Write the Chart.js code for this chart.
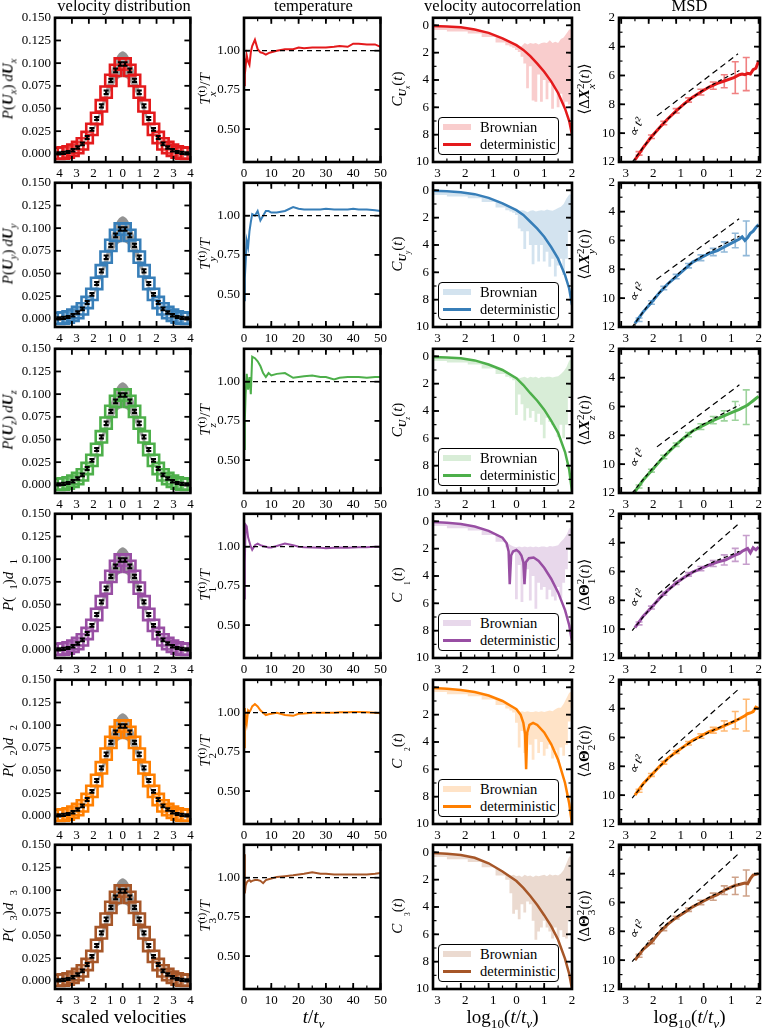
<!DOCTYPE html>
<html lang="en">
<head>
<meta charset="utf-8">
<title>Velocity statistics</title>
<script src="https://cdn.jsdelivr.net/npm/chart.js"></script>
<style>
  html, body { margin: 0; padding: 0; background: #fff; }
  body { position: relative; width: 763px; height: 1029px; overflow: hidden;
         font-family: 'Liberation Serif', 'DejaVu Serif', serif; color: #000; }
  .panel { position: absolute; }
  .txt { position: absolute; white-space: nowrap; line-height: 1; transform: translateX(-50%); }
  .ytitle { position: absolute; white-space: nowrap; font-size: 15px; line-height: 1;
            transform: translate(-50%, -50%) rotate(-90deg); }
  sub, sup { font-size: 0.7em; line-height: 0; }
  .ss { display: inline-flex; flex-direction: column; vertical-align: middle;
        font-size: 0.75em; line-height: 1.0; }
  .legend { position: absolute; border: 1px solid #000; border-radius: 4px; background: #fff;
            font-size: 14.5px; line-height: 1; box-sizing: border-box; }
  .legend .smp { position: absolute; left: 4px; width: 28px; }
  .legend .t { position: absolute; left: 41px; white-space: nowrap; }
</style>
</head>
<body>
<script>
// ---- data ----
const rowColors = ['#e41a1c', '#377eb8', '#4daf4a', '#984ea3', '#ff7f00', '#a65628'];

// velocity distribution (same in every row)
const velX = [-3.78, -3.5, -3.22, -2.94, -2.66, -2.38, -2.1, -1.82, -1.54, -1.26, -0.98, -0.7, -0.42, -0.14,
              0.14, 0.42, 0.7, 0.98, 1.26, 1.54, 1.82, 2.1, 2.38, 2.66, 2.94, 3.22, 3.5, 3.78];
const velP = [0.0005, 0.001, 0.002, 0.004, 0.007, 0.011, 0.018, 0.027, 0.039, 0.053, 0.068, 0.081, 0.092, 0.099,
              0.099, 0.092, 0.081, 0.068, 0.053, 0.039, 0.027, 0.018, 0.011, 0.007, 0.004, 0.002, 0.001, 0.0005];
const velErr = [0.0012, 0.0012, 0.0012, 0.0013, 0.0013, 0.0015, 0.0016, 0.0016, 0.0017, 0.0018, 0.0019, 0.0019, 0.002, 0.002,
                0.002, 0.002, 0.0019, 0.0019, 0.0018, 0.0017, 0.0016, 0.0016, 0.0015, 0.0013, 0.0013, 0.0012, 0.0012, 0.0012];
const grayX  = [-4, -3, -2, -1.5, -1, -0.75, -0.5, -0.25, 0, 0.25, 0.5, 0.75, 1, 1.5, 2, 3, 4];
const grayUp = [0.0005, 0.004, 0.02, 0.04, 0.07, 0.087, 0.101, 0.11, 0.113, 0.11, 0.101, 0.087, 0.07, 0.04, 0.02, 0.004, 0.0005];
const grayLo = [0.0005, 0.003, 0.017, 0.034, 0.057, 0.068, 0.077, 0.083, 0.085, 0.083, 0.077, 0.068, 0.057, 0.034, 0.017, 0.003, 0.0005];

// temperature
const tempT = [0, 0.3, 0.6, 1, 1.5, 2, 2.5, 3, 4, 5, 6, 7, 8, 9, 10, 12, 15, 18, 20, 22, 25, 28, 30, 33, 35, 38, 40, 42, 45, 48, 50];
const temp1 = [0.78, 0.95, 0.90, 0.97, 0.93, 0.91, 0.99, 1.03, 1.07, 1.01, 0.99, 0.985, 0.975, 0.985, 0.99, 1.0, 1.01, 1.01, 1.02, 1.015, 1.02, 1.02, 1.02, 1.025, 1.03, 1.025, 1.045, 1.045, 1.04, 1.04, 1.025];
const temp2 = [0.46, 0.60, 0.70, 0.84, 0.80, 0.90, 0.96, 1.01, 1.0, 1.03, 0.97, 1.0, 1.03, 1.03, 1.02, 1.02, 1.03, 1.055, 1.045, 1.04, 1.04, 1.04, 1.045, 1.04, 1.04, 1.04, 1.045, 1.04, 1.04, 1.035, 1.03];
const temp3 = [0.57, 0.75, 0.92, 1.05, 0.95, 1.03, 0.92, 1.16, 1.15, 1.13, 1.10, 1.055, 1.03, 1.055, 1.04, 1.05, 1.055, 1.025, 1.03, 1.035, 1.04, 1.03, 1.03, 1.015, 1.025, 1.03, 1.03, 1.03, 1.025, 1.03, 1.03];
const temp4 = [0.67, 0.90, 1.14, 1.13, 1.06, 1.03, 1.0, 0.98, 1.01, 1.02, 1.01, 1.005, 1.0, 0.995, 0.995, 1.005, 1.02, 1.01, 1.0, 0.997, 0.995, 0.993, 0.99, 0.993, 0.995, 0.993, 0.995, 0.996, 0.997, 1.0, 1.0];
const temp5 = [0.78, 1.03, 0.97, 0.93, 1.015, 1.005, 1.02, 1.04, 1.055, 1.04, 1.015, 1.0, 0.985, 0.99, 0.993, 1.0, 0.985, 0.98, 0.993, 0.995, 1.0, 1.0, 1.0, 1.0, 1.003, 1.003, 1.005, 1.004, 1.003, 1.0, 0.997];
const temp6 = [1.15, 0.90, 0.95, 0.97, 0.98, 0.985, 0.975, 0.98, 0.985, 0.985, 0.98, 0.965, 0.985, 0.99, 0.995, 1.005, 1.01, 1.015, 1.02, 1.025, 1.035, 1.025, 1.025, 1.02, 1.02, 1.02, 1.02, 1.02, 1.02, 1.025, 1.03];
const tempRows = [temp1, temp2, temp3, temp4, temp5, temp6];

// velocity autocorrelation (log10 values)
const detX  = [-3, -2.5, -2, -1.5, -1, -0.5, 0, 0.25, 0.5, 0.75, 1, 1.25, 1.5, 1.75, 1.9, 2];
const det1  = [-0.05, -0.08, -0.15, -0.3, -0.55, -0.95, -1.45, -1.8, -2.25, -2.8, -3.4, -4.1, -4.95, -6.1, -7.0, -8.0];
const det2  = [-0.04, -0.07, -0.14, -0.28, -0.55, -0.95, -1.45, -1.8, -2.3, -2.8, -3.4, -4.15, -5.0, -6.2, -7.2, -8.4];
const det3  = [-0.05, -0.08, -0.15, -0.3, -0.6, -1.0, -1.6, -2.1, -2.7, -3.25, -3.9, -4.7, -5.6, -7.0, -8.3, -9.9];
const detX4 = [-3, -2.5, -2, -1.5, -1, -0.5, -0.35, -0.28, -0.24, -0.19, -0.12, 0, 0.1, 0.18, 0.25, 0.29, 0.34, 0.45, 0.62, 0.8, 1, 1.25, 1.5, 1.75, 1.9, 2];
const det4  = [-0.05, -0.1, -0.2, -0.38, -0.7, -1.2, -1.6, -2.2, -4.6, -2.5, -2.2, -2.1, -2.25, -2.5, -3.0, -4.6, -3.0, -2.7, -2.65, -2.9, -3.4, -4.2, -5.2, -6.5, -7.6, -8.8];
const detX5 = [-3, -2.5, -2, -1.5, -1, -0.5, 0, 0.15, 0.25, 0.31, 0.35, 0.39, 0.47, 0.6, 0.75, 1, 1.25, 1.5, 1.75, 1.9, 2];
const det5  = [-0.05, -0.1, -0.2, -0.35, -0.6, -1.0, -1.6, -2.0, -2.6, -3.4, -6.0, -3.3, -2.75, -2.6, -2.75, -3.3, -4.15, -5.3, -7.0, -8.5, -10];
const det6  = [-0.05, -0.1, -0.2, -0.4, -0.8, -1.4, -2.1, -2.6, -3.2, -3.85, -4.6, -5.4, -6.4, -7.8, -8.9, -10];
const detXRows = [detX, detX, detX, detX4, detX5, detX];
const detRows  = [det1, det2, det3, det4, det5, det6];

const brX  = [-3, -2, -1.5, -1, -0.5, -0.3, -0.2, -0.1, 0, 0.1, 0.2, 0.3, 0.4, 0.5, 0.6, 0.7, 0.8, 0.9, 1.0, 1.1, 1.2, 1.3, 1.4, 1.5, 1.6, 1.7, 1.8, 1.9, 2.0];
const brU1 = [-0.1, -0.2, -0.35, -0.6, -1.0, -1.18, -1.28, -1.38, -1.5, -1.65, -1.5, -1.3, -1.4, -1.3, -1.35, -1.3, -1.4, -1.3, -1.25, -1.3, -1.1, -1.3, -1.2, -1.3, -1.0, -0.9, -0.6, -0.3, -0.3];
const brL1 = [-0.35, -0.45, -0.6, -0.85, -1.25, -1.45, -1.55, -1.65, -1.8, -1.95, -2.3, -2.8, -4.6, -3.0, -5.5, -5.6, -3.6, -5.6, -4.0, -5.4, -4.2, -6.1, -4.6, -6.0, -5.0, -5.8, -5.6, -5.8, -2.0];
const brU2 = [-0.1, -0.2, -0.33, -0.6, -1.0, -1.18, -1.28, -1.38, -1.5, -1.5, -1.45, -1.5, -1.6, -1.5, -1.45, -1.55, -1.5, -1.45, -1.5, -1.4, -1.45, -1.5, -1.4, -1.3, -1.2, -1.0, -0.6, -0.3, -0.3];
const brL2 = [-0.35, -0.45, -0.58, -0.85, -1.25, -1.45, -1.55, -1.65, -1.8, -2.8, -3.0, -4.3, -3.0, -4.0, -5.4, -4.0, -5.2, -4.0, -5.2, -4.5, -5.6, -5.0, -6.3, -5.5, -5.0, -6.2, -5.0, -3.0, -2.0];
const brU3 = [-0.1, -0.2, -0.35, -0.65, -1.05, -1.25, -1.35, -1.5, -1.5, -1.6, -1.55, -1.5, -1.6, -1.5, -1.55, -1.5, -1.6, -1.5, -1.55, -1.5, -1.5, -1.55, -1.5, -1.45, -1.3, -1.1, -0.8, -0.3, -0.2];
const brL3 = [-0.35, -0.45, -0.6, -0.9, -1.3, -1.5, -1.6, -1.75, -4.3, -2.8, -3.5, -4.7, -3.8, -4.5, -4.0, -4.8, -4.2, -5.0, -6.0, -4.5, -4.8, -5.0, -5.2, -5.9, -5.0, -6.0, -5.0, -3.0, -2.0];
const brU4 = [-0.1, -0.25, -0.42, -0.75, -1.25, -1.6, -1.75, -1.85, -1.9, -1.85, -1.9, -1.85, -1.9, -1.85, -1.9, -1.85, -1.9, -1.85, -1.85, -1.9, -1.8, -1.85, -1.8, -1.75, -1.5, -1.3, -1.0, -0.5, -0.5];
const brL4 = [-0.35, -0.5, -0.68, -1.0, -1.5, -1.9, -2.5, -2.3, -5.7, -3.2, -5.9, -4.6, -3.5, -5.8, -4.0, -6.4, -4.5, -5.0, -4.8, -5.7, -5.0, -5.5, -5.8, -4.8, -5.6, -4.5, -3.5, -2.0, -1.0];
const brU5 = [-0.1, -0.25, -0.4, -0.65, -1.05, -1.3, -1.45, -1.6, -1.7, -1.8, -1.75, -1.8, -1.75, -1.8, -1.8, -1.75, -1.8, -1.75, -1.8, -1.75, -1.7, -1.75, -1.6, -1.5, -1.5, -1.2, -0.8, -0.4, -0.3];
const brL5 = [-0.35, -0.5, -0.65, -0.9, -1.3, -1.55, -1.7, -1.85, -2.6, -4.4, -3.2, -4.8, -3.5, -4.2, -5.3, -3.8, -4.8, -4.0, -5.0, -4.5, -4.2, -5.2, -4.6, -5.5, -4.4, -5.0, -4.2, -2.5, -1.5];
const brU6 = [-0.1, -0.25, -0.45, -0.85, -1.45, -1.6, -1.7, -1.65, -1.75, -1.7, -1.8, -1.65, -1.75, -1.7, -1.8, -1.7, -1.75, -1.7, -1.65, -1.75, -1.6, -1.7, -1.65, -1.7, -1.55, -1.3, -0.8, -0.3, -0.3];
const brL6 = [-0.35, -0.5, -0.7, -1.1, -1.7, -2.0, -3.0, -4.5, -4.2, -4.9, -3.8, -4.4, -3.6, -3.8, -5.0, -6.4, -5.8, -5.5, -5.0, -5.5, -5.8, -6.3, -5.5, -6.3, -5.7, -6.2, -6.3, -5.0, -1.0];
const brURows = [brU1, brU2, brU3, brU4, brU5, brU6];
const brLRows = [brL1, brL2, brL3, brL4, brL5, brL6];

// MSD (log10 values)
const msdX = [-2.5, -2.2, -1.9, -1.6, -1.3, -1.0, -0.7, -0.4, -0.1, 0.2, 0.5, 0.8, 1.1, 1.3, 1.4, 1.5, 1.6, 1.7, 1.8, 1.9, 2.0];
const msd1 = [-11.85, -11.0, -10.25, -9.6, -9.0, -8.45, -7.95, -7.5, -7.15, -6.8, -6.55, -6.35, -6.15, -5.95, -5.9, -5.95, -5.85, -5.9, -5.6, -5.5, -5.0];
const msd2 = [-11.75, -10.95, -10.3, -9.6, -9.0, -8.5, -8.0, -7.5, -7.2, -6.9, -6.7, -6.4, -6.1, -5.9, -5.75, -6.0, -5.8, -5.5, -5.35, -5.1, -4.9];
const msd3 = [-11.9, -11.1, -10.45, -9.8, -9.2, -8.65, -8.15, -7.7, -7.4, -7.1, -6.85, -6.6, -6.35, -6.2, -6.1, -6.0, -5.9, -5.75, -5.6, -5.45, -5.3];
const msd4 = [-9.9, -9.1, -8.5, -7.85, -7.3, -6.8, -6.4, -6.05, -5.8, -5.55, -5.35, -5.2, -4.9, -4.75, -4.6, -4.5, -4.4, -4.7, -4.35, -4.5, -4.3];
const msd5 = [-10.0, -9.2, -8.6, -8.0, -7.45, -7.0, -6.6, -6.2, -5.9, -5.6, -5.4, -5.15, -4.9, -4.7, -4.6, -4.5, -4.35, -4.3, -4.2, -3.9, -4.0];
const msd6 = [-10.0, -9.25, -8.75, -8.05, -7.5, -7.05, -6.7, -6.3, -6.0, -5.7, -5.45, -5.1, -4.85, -4.75, -4.7, -4.65, -4.7, -4.35, -4.1, -4.05, -4.0];
const msdRows = [msd1, msd2, msd3, msd4, msd5, msd6];

const errX = [-2.35, -1.9, -1.45, -1.0, -0.55, -0.1, 0.35, 0.75, 1.15, 1.55];
const errYRows = [
  [-11.4, -10.25, -9.3, -8.45, -7.7, -7.15, -6.7, -6.4, -6.15, -5.9],
  [-11.5, -10.3, -9.3, -8.5, -7.75, -7.2, -6.8, -6.45, -6.0, -5.85],
  [-11.55, -10.45, -9.5, -8.65, -7.95, -7.4, -6.95, -6.65, -6.3, -6.05],
  [-9.6, -8.5, -7.55, -6.8, -6.2, -5.8, -5.45, -5.2, -4.85, -4.5],
  [-9.7, -8.6, -7.75, -7.0, -6.4, -5.9, -5.5, -5.2, -4.8, -4.45],
  [-9.7, -8.75, -7.85, -7.05, -6.5, -6.0, -5.6, -5.15, -4.85, -4.65]
];
const errERows = [
  [0.12, 0.12, 0.12, 0.15, 0.15, 0.2, 0.25, 0.45, 1.1, 1.15],
  [0.12, 0.12, 0.12, 0.15, 0.15, 0.2, 0.25, 0.35, 0.5, 1.2],
  [0.1, 0.1, 0.12, 0.12, 0.15, 0.2, 0.25, 0.35, 0.65, 1.2],
  [0.1, 0.1, 0.1, 0.1, 0.12, 0.15, 0.2, 0.35, 0.45, 1.0],
  [0.1, 0.1, 0.1, 0.1, 0.12, 0.15, 0.2, 0.35, 0.6, 1.1],
  [0.1, 0.1, 0.1, 0.1, 0.12, 0.15, 0.25, 0.3, 0.6, 0.9]
];
const thX = [-2.6, -2.0, -1.4, -0.8, -0.2, 0.4, 1.0, 1.3];
const thRows = [
  [-12.0, -10.5, -9.2, -8.15, -7.25, -6.55, -5.95, -5.65],
  [-12.0, -10.45, -9.2, -8.1, -7.25, -6.6, -6.0, -5.7],
  [-12.0, -10.6, -9.35, -8.3, -7.45, -6.8, -6.2, -5.9],
  [-10.1, -8.7, -7.5, -6.55, -5.85, -5.3, -4.85, -4.6],
  [-10.2, -8.8, -7.65, -6.75, -6.05, -5.45, -4.95, -4.7],
  [-10.1, -8.75, -7.6, -6.75, -6.05, -5.45, -4.95, -4.7]
];
const steepXRows = [[-1.7, 1.25], [-1.72, 1.29], [-1.7, 1.3], [-1.67, 1.3], [-1.65, 1.3], [-1.61, 1.28]];
const steepYRows = [[-8.8, -4.5], [-8.7, -4.5], [-8.8, -4.5], [-7.6, -2.65], [-7.6, -2.6], [-7.65, -2.6]];
const noteY = [-9.6, -9.6, -9.6, -7.9, -7.9, -7.9];

// tick labels
const velTicksX = [-4, -3, -2, -1, 0, 1, 2, 3, 4];
const velTicksY = [0, 0.025, 0.05, 0.075, 0.1, 0.125, 0.15];
const tempTicksX = [0, 10, 20, 30, 40, 50];
const tempTicksY = [0.5, 0.75, 1.0];
const acfTicksX = [-3, -2, -1, 0, 1, 2];
const acfTicksY = [0, -2, -4, -6, -8, -10];
const msdTicksX = [-3, -2, -1, 0, 1, 2];
const msdTicksY = [-2, -4, -6, -8, -10, -12];

// ---- layout ----
Chart.defaults.font.family = "'Liberation Serif', serif";
Chart.defaults.font.size = 13;
Chart.defaults.color = '#000';

const colL = [55, 244, 433, 619], colW = [138, 139, 139, 141];
const rowH = 146;
const rowTop = r => Math.round(16 + 165.4 * r);
const PAD_L = 46, PAD_T = 10, PAD_R = 8, PAD_B = 22;

function pts(xs, ys) { return xs.map((x, i) => ({ x: x, y: ys[i] })); }
function fade(hex, a) {
  const n = parseInt(hex.slice(1), 16);
  return 'rgba(' + (n >> 16) + ',' + ((n >> 8) & 255) + ',' + (n & 255) + ',' + a + ')';
}
const absLabel = v => String(Math.abs(v));
const shiftLabel = v => (v < 0 ? '\u2002\u2009' : '') + Math.abs(v);

function axis(min, max, ticks, fmt, horizontal) {
  return {
    type: 'linear', min: min, max: max,
    grid: { display: false, drawTicks: false }, border: { display: false },
    afterBuildTicks: s => { s.ticks = ticks.map(v => ({ value: v })); },
    afterFit: s => { if (horizontal) s.height = PAD_B; else s.width = PAD_L; },
    ticks: { autoSkip: false, maxRotation: 0, minRotation: 0, padding: 4, callback: fmt }
  };
}

function makeDecor(info) {
  function errs(chart, below) {
    const { ctx, scales: { x, y } } = chart;
    (info.errs || []).filter(e => !!e.below === below).forEach(e => {
      ctx.save();
      ctx.strokeStyle = e.color; ctx.lineWidth = e.lw;
      e.x.forEach((xv, i) => {
        const px = x.getPixelForValue(xv);
        const lo = y.getPixelForValue(e.y[i] - e.e[i]), hi = y.getPixelForValue(e.y[i] + e.e[i]);
        ctx.beginPath();
        ctx.moveTo(px, lo); ctx.lineTo(px, hi);
        ctx.moveTo(px - e.cap, lo); ctx.lineTo(px + e.cap, lo);
        ctx.moveTo(px - e.cap, hi); ctx.lineTo(px + e.cap, hi);
        ctx.stroke();
      });
      ctx.restore();
    });
  }
  return {
    id: 'decor',
    beforeDatasetsDraw(chart) { errs(chart, true); },
    afterDatasetsDraw(chart) { errs(chart, false); },
    afterDraw(chart) {
      const { ctx, chartArea: a, scales: { x, y } } = chart;
      ctx.save();
      ctx.strokeStyle = '#000';
      const seg = (x1, y1, x2, y2) => { ctx.beginPath(); ctx.moveTo(x1, y1); ctx.lineTo(x2, y2); ctx.stroke(); };
      const marks = (len, lw, xs, ys) => {
        ctx.lineWidth = lw;
        xs.forEach(v => { const p = x.getPixelForValue(v); seg(p, a.bottom, p, a.bottom - len); seg(p, a.top, p, a.top + len); });
        ys.forEach(v => { const p = y.getPixelForValue(v); seg(a.left, p, a.left + len, p); seg(a.right, p, a.right - len, p); });
      };
      const steps = (s, step) => {
        const out = [];
        if (!step) return out;
        for (let v = Math.ceil(s.min / step) * step; v <= s.max + 1e-9; v += step) out.push(v);
        return out;
      };
      marks(3.5, 1.2, steps(x, info.xMinor), steps(y, info.yMinor));
      marks(6, 1.8, x.ticks.map(t => t.value), y.ticks.map(t => t.value));
      ctx.lineWidth = 2.6;
      ctx.strokeRect(a.left, a.top, a.width, a.height);
      if (info.note) {
        ctx.translate(x.getPixelForValue(info.note.x), y.getPixelForValue(info.note.y));
        ctx.rotate(-65 * Math.PI / 180);
        ctx.font = "italic 13px 'Liberation Serif', serif";
        ctx.fillStyle = '#000';
        ctx.textAlign = 'center'; ctx.textBaseline = 'middle';
        ctx.fillText(info.note.text, 0, 0);
      }
      ctx.restore();
    }
  };
}

function addPanel(r, c, datasets, xAx, yAx, info) {
  const w = colW[c] + PAD_L + PAD_R, h = rowH + PAD_T + PAD_B;
  const div = document.createElement('div');
  div.className = 'panel';
  div.style.left = (colL[c] - PAD_L) + 'px';
  div.style.top = (rowTop(r) - PAD_T) + 'px';
  const cv = document.createElement('canvas');
  cv.width = w; cv.height = h;
  cv.style.width = w + 'px'; cv.style.height = h + 'px';
  div.appendChild(cv);
  document.body.appendChild(div);
  new Chart(cv, {
    type: 'line',
    data: { datasets: datasets },
    options: {
      responsive: false, animation: false, events: [],
      layout: { padding: { top: PAD_T, right: PAD_R, left: 0, bottom: 0 } },
      plugins: { legend: { display: false }, tooltip: { enabled: false } },
      elements: { point: { radius: 0 }, line: { tension: 0 } },
      scales: { x: xAx, y: yAx }
    },
    plugins: [makeDecor(info)]
  });
}

function addHtml(html) { document.body.insertAdjacentHTML('beforeend', html); }

// ---- build ----
const subs = ['<i>x</i>', '<i>y</i>', '<i>z</i>', '1', '2', '3'];
const yTitleX = [8, 207, 399, 586];

for (let r = 0; r < 6; r++) {
  const col = rowColors[r];

  // velocity distribution
  addPanel(r, 0, [
    { data: pts(velX, velP), showLine: false, pointStyle: 'rect', pointRadius: 8,
      pointBorderColor: col, pointBorderWidth: 2.6, pointBackgroundColor: 'rgba(255,255,255,0.15)' },
    { data: pts(grayX, grayUp), borderWidth: 0, fill: '+1', backgroundColor: 'rgba(120,120,120,0.8)', tension: 0.3 },
    { data: pts(grayX, grayLo), borderWidth: 0, fill: false, tension: 0.3 }
  ], axis(-4, 4, velTicksX, shiftLabel, true), axis(-0.009, 0.15, velTicksY, v => v.toFixed(3), false),
  { errs: [{ x: velX, y: velP, e: velErr, color: '#000', lw: 2, cap: 2.5 }] });

  // temperature
  addPanel(r, 1, [
    { data: pts([0, 50], [1, 1]), borderColor: '#000', borderWidth: 1.2, borderDash: [5, 4] },
    { data: pts(tempT, tempRows[r]), borderColor: col, borderWidth: 2 }
  ], axis(0, 50, tempTicksX, v => String(v), true), axis(0.29, 1.21, tempTicksY, v => v.toFixed(2), false),
  { xMinor: 5 });

  // velocity autocorrelation
  addPanel(r, 2, [
    { data: pts(detXRows[r], detRows[r]), borderColor: col, borderWidth: 2.5 },
    { data: pts(brX, brURows[r]), borderWidth: 0, fill: '+1', backgroundColor: fade(col, 0.22) },
    { data: pts(brX, brLRows[r]), borderWidth: 0, fill: false, stepped: 'middle' }
  ], axis(-3, 2, acfTicksX, shiftLabel, true), axis(-10, 0.55, acfTicksY, absLabel, false),
  { xMinor: 0.5, yMinor: 1 });

  // MSD
  addPanel(r, 3, [
    { data: pts(steepXRows[r], steepYRows[r]), borderColor: '#000', borderWidth: 1.2, borderDash: [6, 4] },
    { data: pts(thX, thRows[r]), borderColor: '#000', borderWidth: 1.2, borderDash: [4, 3], tension: 0.3 },
    { data: pts(msdX, msdRows[r]), borderColor: col, borderWidth: 3 }
  ], axis(-3.08, 2.05, msdTicksX, shiftLabel, true), axis(-12, -2, msdTicksY, absLabel, false),
  { xMinor: 0.5, yMinor: 1,
    errs: [{ x: errX, y: errYRows[r], e: errERows[r], color: fade(col, 0.55), lw: 1.6, cap: 3.5, below: true }],
    note: { x: -2.44, y: noteY[r], text: '\u221D t\u00B2' } });

  // axis titles
  const s = subs[r], ang = r >= 3, cy = rowTop(r) + rowH / 2;
  const titles = [
    ang ? '<i>P</i>(&nbsp;&nbsp;<sub>' + s + '</sub>)<i>d</i>&nbsp;&nbsp;<sub>' + s + '</sub>'
        : '<i>P</i>(<b><i>U</i></b><sub>' + s + '</sub>)&thinsp;<i>d</i><b><i>U</i></b><sub>' + s + '</sub>',
    '<i>T</i><span class="ss"><span>(t)</span><span>' + s + '</span></span>/<i>T</i>',
    ang ? '<i>C</i><sub>&nbsp;&nbsp;&nbsp;<sub>' + s + '</sub></sub>(<i>t</i>)'
        : '<i>C</i><sub><b><i>U</i></b><sub>' + s + '</sub></sub>(<i>t</i>)',
    '\u27E8\u0394<b>' + (ang ? '\u0398' : '<i>X</i>') + '</b><span class="ss"><span>2</span><span>' + s + '</span></span>(<i>t</i>)\u27E9'
  ];
  titles.forEach((t, c) => addHtml('<div class="ytitle" style="left:' + yTitleX[c] + 'px;top:' + cy + 'px">' + t + '</div>'));

  // legend
  const lt = rowTop(r) + 101;
  addHtml('<div class="legend" style="left:' + (colL[2] + 5) + 'px;top:' + lt + 'px;width:121px;height:38px">' +
    '<span class="smp" style="top:6px;height:6px;background:' + fade(col, 0.22) + '"></span>' +
    '<span class="t" style="top:2px">Brownian</span>' +
    '<span class="smp" style="top:25px;height:2.5px;background:' + col + '"></span>' +
    '<span class="t" style="top:19px">deterministic</span></div>');
}

// column titles and bottom labels
const colMid = [124, 313.5, 502.5, 689.5];
['velocity distribution', 'temperature', 'velocity autocorrelation', 'MSD'].forEach((t, c) =>
  addHtml('<div class="txt" style="left:' + colMid[c] + 'px;top:-2px;font-size:16.5px">' + t + '</div>'));
const bottom = ['scaled velocities', '<i>t</i>/<i>t</i><sub><i>\u03BD</i></sub>',
  'log<sub>10</sub>(<i>t</i>/<i>t</i><sub><i>\u03BD</i></sub>)', 'log<sub>10</sub>(<i>t</i>/<i>t</i><sub><i>\u03BD</i></sub>)'];
bottom.forEach((t, c) =>
  addHtml('<div class="txt" style="left:' + colMid[c] + 'px;top:1007px;font-size:19px">' + t + '</div>'));
</script>
</body>
</html>
